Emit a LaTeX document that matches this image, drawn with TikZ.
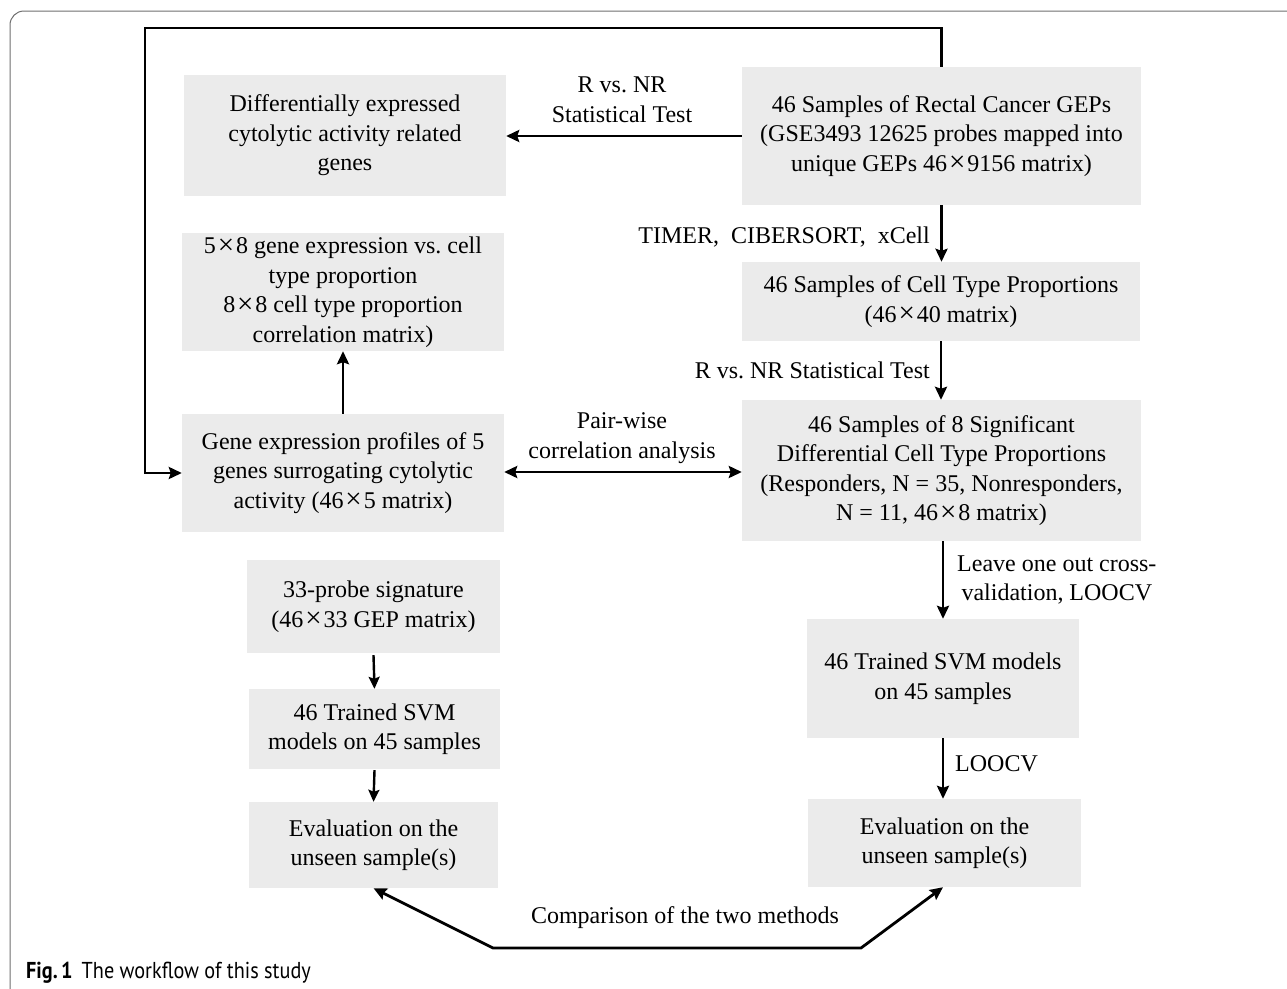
\documentclass[tikz,border=0pt]{standalone}
\usepackage{fontspec}
\setmainfont{Liberation Serif}
\newfontfamily\capfont{PT Sans}
\usetikzlibrary{arrows.meta,calc}
\frenchspacing
\definecolor{boxgray}{HTML}{EBEBEB}
\definecolor{framegray}{HTML}{6E6E6E}
\newcommand\bigx{\hspace{0.08em}\raisebox{-0.5pt}{\fontsize{29}{29}\selectfont ×}\hspace{0.08em}}
\tikzset{
  box/.style={fill=boxgray, inner sep=0pt, align=center, font=\fontsize{24}{29.5}\selectfont},
  lab/.style={inner sep=0pt, align=center, font=\fontsize{24}{29.5}\selectfont},
  arr/.style={line width=2.8pt, -{Stealth[length=13pt,width=12pt,inset=2pt]}},
  arrs/.style={line width=2.4pt, -{Stealth[length=12pt,width=11pt,inset=2pt]}},
  darr/.style={line width=2.8pt, {Stealth[length=13pt,width=12pt,inset=2pt]}-{Stealth[length=13pt,width=12pt,inset=2pt]}},
}
\begin{document}
\begin{tikzpicture}[x=1pt,y=-1pt]
\useasboundingbox (0,0) rectangle (1287,988);
% figure frame
\draw[framegray, line width=1pt, rounded corners=14pt] (10,990) -- (10,11) -- (1290,11);

% boxes
\node[box, minimum width=322pt, minimum height=121pt] (diff) at (345,135.5) {Differentially expressed\\cytolytic activity related\\genes};
\node[box, minimum width=399pt, minimum height=138pt] (geps) at (941.5,136) {46 Samples of Rectal Cancer GEPs\\(GSE3493 12625 probes mapped into\\unique GEPs 46\bigx9156 matrix)};
\node[box, minimum width=398pt, minimum height=79pt] (cell) at (941,301.5) {46 Samples of Cell Type Proportions\\(46\bigx40 matrix)};
\node[box, minimum width=399pt, minimum height=141pt] (sig) at (941.5,470.5) {46 Samples of 8 Significant\\Differential Cell Type Proportions\\(Responders, N = 35, Nonresponders,\\N = 11, 46\bigx8 matrix)};
\node[box, minimum width=322pt, minimum height=118pt] (mat) at (343,292) {5\bigx8 gene expression vs. cell\\type proportion\\8\bigx8 cell type proportion\\correlation matrix)};
\node[box, minimum width=322pt, minimum height=118pt] (gep5) at (343,473) {Gene expression profiles of 5\\genes surrogating cytolytic\\activity (46\bigx5 matrix)};
\node[box, minimum width=253pt, minimum height=93pt] (probe) at (373.5,606.5) {33-probe signature\\(46\bigx33 GEP matrix)};
\node[box, minimum width=251pt, minimum height=80pt] (svmL) at (374.5,729) {46 Trained SVM\\models on 45 samples};
\node[box, minimum width=249pt, minimum height=86pt] (evalL) at (373.5,845) {Evaluation on the\\unseen sample(s)};
\node[box, minimum width=272pt, minimum height=119pt] (svmR) at (943,678.5) {46 Trained SVM models\\on 45 samples};
\node[box, minimum width=273pt, minimum height=88pt] (evalR) at (944.5,843) {Evaluation on the\\unseen sample(s)};

% feedback loop
\coordinate (lt) at (145,28);
\draw[arr] (geps.north) |- (lt) |- (gep5.west);

% connectors
\draw[arr] (geps.west) -- (diff.east |- geps.west);
\node[lab] (l1) at (622,100) {R vs. NR\\Statistical Test};

\draw[arr] (geps.south) -- (cell.north -| geps.south);
\node[lab, anchor=east] (l2) at (930,237) {TIMER,\ \ CIBERSORT,\ \ xCell};

\draw[arr] (cell.south) -- (sig.north -| cell.south);
\node[lab, anchor=east] (l3) at (930,370) {R vs. NR Statistical Test};

\draw[darr] (gep5.east |- 0,472) -- (sig.west |- 0,472);
\node[lab] (l4) at (622,438) {Pair-wise\\correlation analysis};

\draw[arr] (gep5.north) -- (mat.south);

\coordinate (sr) at (943,541);
\draw[arr] (sig.south -| sr) -- (svmR.north -| sr);
\node[lab, anchor=west, align=center] (l5) at (957,580) {Leave one out cross-\\validation, LOOCV};

\draw[arr] (svmR.south -| sr) -- (evalR.north -| sr);
\node[lab, anchor=west] (l6) at (955,764) {LOOCV};

\draw[arrs] (probe.south) ++(0,2) -- (svmL.north);
\draw[arrs] (svmL.south) ++(0,1) -- (evalL.north);

% comparison
\coordinate (c1) at (493,948);
\coordinate (c2) at (861,948);
\draw[darr] (evalL.south) -- (c1) -- (c2) -- (evalR.south -| sr);
\node[lab] (l7) at (685,918) {Comparison of the two methods};

% caption
\node[anchor=base west, inner sep=0pt] (cap) at (26,978) {\scalebox{0.88}[1]{\capfont\fontsize{23}{26}\selectfont\textbf{Fig.\,1}\hspace{0.45em}The workflow of this study}};
\end{tikzpicture}
\end{document}
